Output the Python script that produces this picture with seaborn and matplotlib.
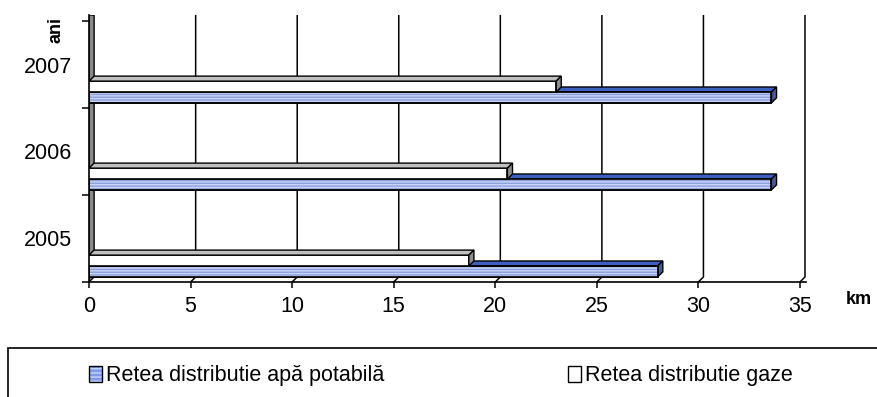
"""Retea distributie apa / gaze, 2005-2007 (horizontal 3D-style bars)."""

import matplotlib.patches as mpatches
import matplotlib.pyplot as plt
import pandas as pd
import seaborn as sns
from matplotlib.legend_handler import HandlerTuple

years = ["2005", "2006", "2007"]
apa_km = [28.0, 33.6, 33.6]
gaze_km = [18.7, 20.6, 23.0]
x_ticks = [0, 5, 10, 15, 20, 25, 30, 35]

apa_name = "Retea distributie apă potabilă"
gaze_name = "Retea distributie gaze"

df = pd.DataFrame({
    "an": years * 2,
    "km": apa_km + gaze_km,
    "serie": [apa_name] * len(years) + [gaze_name] * len(years),
})

sns.set_theme(style="white")
plt.rcParams["font.family"] = ["Liberation Sans", "DejaVu Sans"]
plt.rcParams["hatch.linewidth"] = 1.0
plt.rcParams["text.color"] = "black"
plt.rcParams["xtick.color"] = "black"
plt.rcParams["ytick.color"] = "black"

BLUE = "#7f9ae6"
STRIPE = "#c8d4fb"
BLUE_TOP = "#3f5fc0"
BLUE_END = "#4a5a96"
GRAY_TOP = "#c0c0c0"
GRAY_END = "#8c8c8c"

fig = plt.figure(figsize=(8.78, 3.97), dpi=100)
ax = fig.add_axes([0.1014, 0.2897, 0.8166, 0.6725])

sns.barplot(
    data=df, y="an", x="km", hue="serie",
    order=years[::-1], hue_order=[gaze_name, apa_name],
    palette={apa_name: BLUE, gaze_name: "white"},
    width=0.25, edgecolor="black", linewidth=1.2,
    errorbar=None, legend=False, ax=ax,
)

# axis range: bars sit near the floor of each category band
ybot = len(years) - 1 + 0.184
ytop = ybot - 3.069
xmax = 35.3
ax.set_xlim(0, xmax)
ax.set_ylim(ybot, ytop)

# depth of the fake 3D effect, in data units
dx, dy = 0.25, 0.0575

# back wall gridlines + left wall
for t in x_ticks[1:]:
    ax.plot([t, t + dx, t + dx], [ybot, ybot - dy, ytop],
            color="black", lw=1.1, zorder=0.5)
ax.add_patch(mpatches.Polygon(
    [(0, ybot), (dx, ybot - dy), (dx, ytop), (0, ytop)],
    facecolor="#8a8a8a", edgecolor="black", lw=1.0, zorder=0.6))

# faces for each bar; gaze container drawn above apa
styles = [(gaze_name, GRAY_TOP, GRAY_END, 3), (apa_name, BLUE_TOP, BLUE_END, 2)]
for container, (name, top_c, end_c, z) in zip(ax.containers, styles):
    for rect in container:
        x0, y0 = rect.get_x(), rect.get_y()
        w, h = rect.get_width(), rect.get_height()
        rect.set_zorder(z)
        ax.add_patch(mpatches.Polygon(
            [(x0, y0), (x0 + w, y0), (x0 + w + dx, y0 - dy), (x0 + dx, y0 - dy)],
            facecolor=top_c, edgecolor="black", lw=1.0, zorder=z))
        ax.add_patch(mpatches.Polygon(
            [(x0 + w, y0), (x0 + w + dx, y0 - dy), (x0 + w + dx, y0 + h - dy), (x0 + w, y0 + h)],
            facecolor=end_c, edgecolor="black", lw=1.0, zorder=z))
        if name == apa_name:
            ax.add_patch(mpatches.Rectangle(
                (x0, y0), w, h, facecolor="none", edgecolor=STRIPE,
                hatch="------", lw=0, zorder=z + 0.1))
            ax.add_patch(mpatches.Rectangle(
                (x0, y0), w, h, fill=False, edgecolor="black",
                lw=1.2, zorder=z + 0.2))

# ticks
ax.set_xticks(x_ticks)
ax.set_xticklabels([str(t) for t in x_ticks], fontsize=15.5)
ax.tick_params(axis="x", which="major", bottom=True, length=4, width=1.1,
               color="black", pad=6)

ax.set_yticks([ybot - k for k in range(len(years) + 1)])
ax.set_yticklabels([])
ax.set_yticks([p - 0.316 for p in range(len(years))], minor=True)
ax.set_yticklabels(years[::-1], minor=True, fontsize=15.5)
ax.tick_params(axis="y", which="major", left=True, length=5, width=1.1,
               color="black")
ax.tick_params(axis="y", which="minor", left=False, length=0, pad=12)

ax.set_xlabel("")
ax.set_ylabel("")
for side in ["top", "right"]:
    ax.spines[side].set_visible(False)
for side in ["left", "bottom"]:
    ax.spines[side].set_color("black")
    ax.spines[side].set_linewidth(1.2)

fig.text(859 / 878, 1 - 299 / 397, "km", fontsize=13, fontweight="bold",
         ha="center", va="center")
fig.text(56 / 878, 1 - 30 / 397, "ani", fontsize=13, fontweight="bold",
         rotation=90, ha="center", va="center")

# legend box (runs past the right and bottom edges)
fig.add_artist(mpatches.Rectangle(
    (8 / 878, -0.1), 1.0, (397 - 348) / 397 + 0.1,
    transform=fig.transFigure, fill=False, edgecolor="black", lw=1.2))

apa_handle = (
    mpatches.Patch(facecolor=BLUE, edgecolor=STRIPE, hatch="----", lw=0),
    mpatches.Patch(facecolor="none", edgecolor="black", lw=1.0),
)
gaze_handle = mpatches.Patch(facecolor="white", edgecolor="black", lw=1.0)
leg_kw = dict(
    loc="center left", frameon=False, fontsize=15.5,
    handlelength=0.6, handleheight=0.75, handletextpad=0.2,
    borderaxespad=0, borderpad=0,
)
fig.legend([apa_handle], [apa_name],
           handler_map={tuple: HandlerTuple(ndivide=1)},
           bbox_to_anchor=(89 / 878, 1 - 376 / 397), **leg_kw)
fig.legend([gaze_handle], [gaze_name],
           bbox_to_anchor=(568 / 878, 1 - 376 / 397), **leg_kw)

fig.savefig("out.png", dpi=100)
